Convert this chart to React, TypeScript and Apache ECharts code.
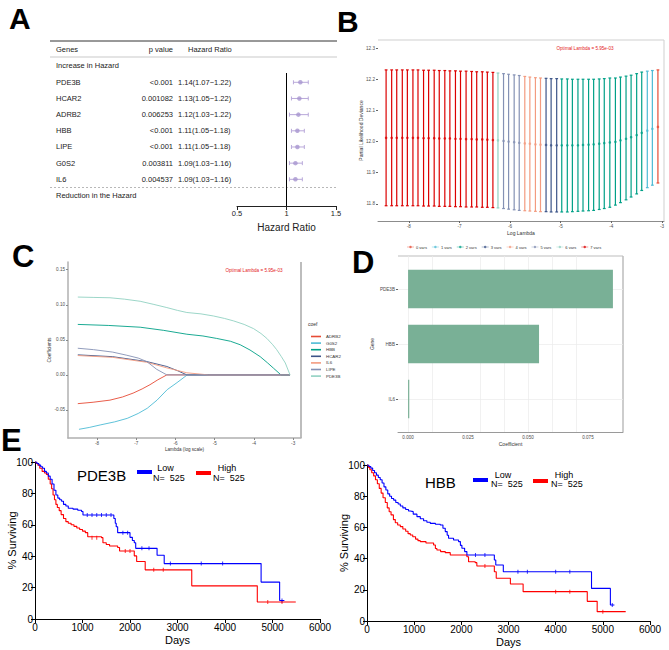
import React, { useEffect, useRef } from "react";
import * as echarts from "echarts";

const NPG = ["#E64B35", "#4DBBD5", "#00A087", "#3C5488", "#F39B7F", "#8491B4", "#91D1C2", "#DC0000"];
const FONT = "Liberation Sans, Arial, sans-serif";

// ---------- Panel A: forest ----------
const forestGenes = ["PDE3B", "HCAR2", "ADRB2", "HBB", "LIPE", "G0S2", "IL6"];
const forestP = ["<0.001", "0.001082", "0.006253", "<0.001", "<0.001", "0.003811", "0.004537"];
const forestHR = [1.14, 1.13, 1.12, 1.11, 1.11, 1.09, 1.09];
const forestLo = [1.07, 1.05, 1.03, 1.05, 1.05, 1.03, 1.03];
const forestHi = [1.22, 1.22, 1.22, 1.18, 1.18, 1.16, 1.16];
const forestRef = 1;

// ---------- Panel B: CV curve ----------
const cvLogLambda = [
  -8.45, -8.34, -8.24, -8.13, -8.03, -7.92, -7.82, -7.71, -7.61, -7.5,
  -7.4, -7.29, -7.19, -7.08, -6.98, -6.87, -6.76, -6.66, -6.55, -6.45,
  -6.34, -6.24, -6.13, -6.03, -5.92, -5.82, -5.71, -5.61, -5.5, -5.4,
  -5.29, -5.19, -5.08, -4.98, -4.87, -4.77, -4.66, -4.56, -4.45, -4.35,
  -4.24, -4.14, -4.03, -3.92, -3.82, -3.71, -3.61, -3.5, -3.4, -3.29,
  -3.19, -3.08,
];
const cvMean = [
  12.012, 12.012, 12.012, 12.012, 12.012, 12.012, 12.012, 12.011, 12.011, 12.011,
  12.01, 12.01, 12.01, 12.009, 12.009, 12.008, 12.008, 12.007, 12.007, 12.006,
  12.005, 12.004, 12.002, 12.0, 11.998, 11.996, 11.994, 11.993, 11.991, 11.99,
  11.989, 11.988, 11.988, 11.988, 11.988, 11.988, 11.988, 11.989, 11.99, 11.991,
  11.993, 11.995, 11.997, 11.999, 12.004, 12.009, 12.014, 12.021, 12.028, 12.035,
  12.041, 12.047,
];
const cvUpper = [
  12.23, 12.23, 12.23, 12.23, 12.23, 12.23, 12.23, 12.229, 12.229, 12.229,
  12.228, 12.228, 12.227, 12.227, 12.226, 12.226, 12.225, 12.224, 12.224, 12.223,
  12.222, 12.22, 12.218, 12.216, 12.214, 12.212, 12.209, 12.207, 12.205, 12.204,
  12.203, 12.202, 12.202, 12.201, 12.201, 12.2, 12.2, 12.2, 12.2, 12.2,
  12.201, 12.202, 12.204, 12.204, 12.207, 12.21, 12.213, 12.218, 12.223, 12.226,
  12.228, 12.23,
];
const cvLower = [
  11.794, 11.794, 11.794, 11.794, 11.794, 11.794, 11.794, 11.793, 11.793, 11.793,
  11.792, 11.792, 11.792, 11.791, 11.791, 11.79, 11.79, 11.79, 11.789, 11.789,
  11.788, 11.787, 11.785, 11.783, 11.781, 11.779, 11.778, 11.777, 11.776, 11.775,
  11.775, 11.774, 11.774, 11.774, 11.774, 11.775, 11.776, 11.777, 11.778, 11.779,
  11.782, 11.785, 11.789, 11.796, 11.804, 11.813, 11.822, 11.832, 11.843, 11.852,
  11.86, 11.867,
];
const cvNzero = [
  7, 7, 7, 7, 7, 7, 7, 7, 7, 7, 7, 7, 7, 7, 7, 7, 7, 7, 7, 7, 7,
  6, 5, 5, 5, 5, 4, 4, 4, 4, 3, 3, 3,
  2, 2, 2, 2, 2, 2, 2, 2, 2, 2, 2, 2, 2, 2, 2, 2,
  1, 1, 0,
];
const cvVarLabels = ["0 vars", "1 vars", "2 vars", "3 vars", "4 vars", "5 vars", "6 vars", "7 vars"];
const cvXTicks = [-8, -7, -6, -5, -4, -3];
const cvYTicks = [11.8, 11.9, 12.0, 12.1, 12.2, 12.3];

// ---------- Panel C: coefficient paths ----------
const coefGenes = ["ADRB2", "G0S2", "HBB", "HCAR2", "IL6", "LIPE", "PDE3B"];
const pathADRB2 = [[-8.49, -0.041], [-8.1, -0.039], [-7.67, -0.036], [-7.35, -0.0315], [-7.08, -0.026], [-6.85, -0.02], [-6.65, -0.014], [-6.45, -0.007], [-6.22, 0], [-3.08, 0]];
const pathG0S2 = [[-8.46, -0.0776], [-8.2, -0.075], [-7.92, -0.0714], [-7.55, -0.067], [-7.23, -0.062], [-6.95, -0.055], [-6.72, -0.0476], [-6.47, -0.036], [-6.21, -0.021], [-5.96, -0.011], [-5.7, 0], [-3.08, 0]];
const pathHBB = [[-8.49, 0.072], [-7.7, 0.0705], [-6.9, 0.068], [-6.3, 0.0635], [-5.71, 0.058], [-5.3, 0.0555], [-4.95, 0.052], [-4.6, 0.048], [-4.35, 0.043], [-4.1, 0.0355], [-3.84, 0.026], [-3.65, 0.017], [-3.5, 0.0095], [-3.31, 0], [-3.08, 0]];
const pathHCAR2 = [[-8.49, 0.0286], [-7.6, 0.026], [-6.73, 0.019], [-6.22, 0.012], [-5.95, 0.006], [-5.71, 0], [-3.08, 0]];
const pathIL6 = [[-8.49, 0.0276], [-7.6, 0.025], [-6.73, 0.018], [-6.22, 0.01], [-5.71, 0.003], [-5.16, 0], [-3.08, 0]];
const pathLIPE = [[-8.49, 0.038], [-8.09, 0.036], [-7.6, 0.0325], [-7.24, 0.028], [-6.95, 0.024], [-6.73, 0.019], [-6.48, 0.008], [-6.22, 0], [-3.08, 0]];
const pathPDE3B = [[-8.49, 0.111], [-8.1, 0.1105], [-7.67, 0.11], [-7.3, 0.108], [-6.9, 0.105], [-6.55, 0.1005], [-6.22, 0.096], [-5.95, 0.092], [-5.71, 0.089], [-5.35, 0.087], [-5.03, 0.084], [-4.75, 0.0805], [-4.52, 0.077], [-4.25, 0.072], [-4.01, 0.066], [-3.82, 0.059], [-3.67, 0.052], [-3.52, 0.043], [-3.42, 0.036], [-3.3, 0.026], [-3.2, 0.017], [-3.08, 0]];
const coefPaths = [pathADRB2, pathG0S2, pathHBB, pathHCAR2, pathIL6, pathLIPE, pathPDE3B];
const coefYTicks = [-0.05, 0, 0.05, 0.1, 0.15];

// ---------- Panel D: bar ----------
const barGenes = ["IL6", "HBB", "PDE3B"];
const barCoef = [0.0005, 0.0546, 0.0854];
const barXTicks = [0, 0.025, 0.05, 0.075];
const barGridX = [0, 0.0125, 0.025, 0.0375, 0.05, 0.0625, 0.075, 0.0875];

// ---------- Panel E: KM ----------
const kmGroups = ["Low", "High"];
const kmN = [525, 525];
const kmPDE3BLow = [[0, 100], [40, 99], [80, 98], [120, 97], [160, 96], [200, 94], [240, 93], [280, 91], [320, 89], [360, 86], [400, 82], [440, 79], [480, 77], [520, 76], [560, 75], [600, 73], [650, 72], [700, 70.5], [800, 70], [900, 69.3], [980, 68.5], [1010, 66.2], [1660, 64], [1690, 61], [1710, 58.8], [1740, 55], [2000, 52], [2050, 50], [2090, 48.6], [2120, 45], [2570, 40.6], [2720, 35.3], [4760, 23.5], [5150, 11.8], [5250, 11.8]];
const kmPDE3BHigh = [[0, 100], [30, 99], [60, 98], [100, 96], [150, 94], [200, 93], [240, 92], [280, 89], [320, 86], [350, 83], [380, 79], [410, 76], [440, 73], [470, 71], [510, 69], [550, 66.5], [600, 64], [650, 62], [700, 61], [760, 60], [820, 59], [880, 58], [940, 57], [1000, 56], [1060, 55], [1110, 52.4], [1400, 51.8], [1430, 48.6], [1500, 47.5], [1570, 46.5], [1740, 45.5], [1780, 43.3], [2090, 40.2], [2140, 36.6], [2320, 31.3], [3300, 21.1], [4680, 10.8], [5490, 10.8]];
const kmHBBLow = [[0, 100], [40, 99], [80, 98], [120, 96.5], [160, 95], [200, 93.5], [240, 92], [280, 90.5], [320, 88.5], [360, 86], [400, 84], [440, 81.5], [480, 80], [520, 78.5], [565, 77.5], [610, 76], [660, 75], [706, 73.7], [760, 72.5], [820, 71.5], [880, 70.5], [918, 70.1], [980, 68.5], [1059, 66.9], [1130, 65.5], [1200, 64.3], [1270, 63.3], [1341, 62.6], [1450, 62], [1553, 61.5], [1610, 59.5], [1659, 57.3], [1700, 55], [1729, 53], [1835, 51.9], [1941, 50.9], [1980, 48.5], [2012, 46.6], [2070, 44.5], [2118, 42.3], [2700, 39.1], [2730, 35.9], [2890, 31.6], [4760, 20.9], [5160, 10.3], [5245, 10.3]];
const kmHBBHigh = [[0, 100], [30, 98.5], [60, 97], [100, 95], [141, 93], [180, 90.5], [220, 88], [260, 85], [300, 82], [340, 79], [388, 76], [430, 72.5], [470, 70], [510, 68], [560, 65], [600, 63], [650, 61.5], [706, 60.5], [760, 59], [820, 57.5], [870, 56], [918, 55.1], [970, 54], [1030, 52.5], [1080, 51.5], [1129, 50.9], [1250, 50], [1412, 48.7], [1450, 46.5], [1482, 45.5], [1560, 44.5], [1659, 43.8], [1765, 42.3], [2118, 41.2], [2153, 38], [2294, 37.4], [2329, 35.3], [2700, 31.6], [2740, 27.4], [3040, 23.7], [3310, 18.8], [4670, 12.6], [4880, 6], [5485, 6]];
const censPDE3BLow = [[1100, 66.2], [1200, 66.2], [1300, 66.2], [1400, 66.2], [1500, 66.2], [1600, 66.2], [1850, 55], [1950, 55], [2250, 45], [2400, 45], [2850, 35.3], [3500, 35.3], [3950, 35.3], [5200, 11.8]];
const censPDE3BHigh = [[1200, 51.8], [1300, 51.8], [1900, 43.3], [2000, 43.3], [2500, 31.3], [2700, 31.3], [4900, 10.8], [5200, 10.8]];
const censHBBLow = [[2300, 42.3], [2500, 42.3], [3200, 31.6], [3400, 31.6], [4000, 31.6], [4300, 31.6], [5200, 10.3]];
const censHBBHigh = [[2500, 35.3], [4000, 18.8], [4300, 18.8], [5000, 6]];

const txt = (x: number, y: number, text: string, size: number, opts: any = {}) => ({
  type: "text",
  x,
  y,
  silent: true,
  style: {
    text,
    fontSize: size,
    fontFamily: opts.family || FONT,
    fontWeight: opts.weight || "normal",
    fill: opts.fill || "#222",
    align: opts.align || "left",
    verticalAlign: "middle",
    textAlign: opts.align || "left",
    textVerticalAlign: "middle",
  },
});
const ln = (x1: number, y1: number, x2: number, y2: number, stroke: string, w = 1, dash?: number[]) => ({
  type: "line",
  silent: true,
  shape: { x1, y1, x2, y2 },
  style: { stroke, lineWidth: w, lineDash: dash },
});

function buildOption() {
  const graphics: any[] = [];
  graphics.push(txt(9, 18, "A", 30, { weight: "bold", fill: "#000" }));
  graphics.push(txt(337, 21, "B", 30, { weight: "bold", fill: "#000" }));
  graphics.push(txt(12, 256, "C", 31, { weight: "bold", fill: "#000" }));
  graphics.push(txt(352, 262, "D", 31, { weight: "bold", fill: "#000" }));
  graphics.push(txt(1, 440, "E", 31, { weight: "bold", fill: "#000" }));

  // Panel A table
  graphics.push(ln(50, 41, 337, 41, "#333", 1));
  graphics.push(ln(50, 57, 337, 57, "#bbb", 0.8));
  graphics.push(ln(50, 187.5, 337, 187.5, "#999", 0.7, [2, 2]));
  graphics.push(txt(56, 49.5, "Genes", 7.5));
  graphics.push(txt(173, 49.5, "p value", 7.5, { align: "right" }));
  graphics.push(txt(188, 49.5, "Hazard Ratio", 7.5));
  graphics.push(txt(56, 65.7, "Increase in Hazard", 7.5));
  graphics.push(txt(56, 195.7, "Reduction in the Hazard", 7.5));
  forestGenes.forEach((g, i) => {
    const y = 82.3 + 16.17 * i;
    graphics.push(txt(56, y, g, 7.5));
    graphics.push(txt(173, y, forestP[i], 7.5, { align: "right" }));
    graphics.push(
      txt(178, y, `${forestHR[i].toFixed(2)}(${forestLo[i].toFixed(2)}\u2212${forestHi[i].toFixed(2)})`, 7.5)
    );
  });

  // Panel B extras
  graphics.push(ln(378, 40, 664, 40, "#cfcfcf", 1));
  graphics.push(ln(664, 40, 664, 221, "#cfcfcf", 1));
  graphics.push(txt(585, 48, "Optimal Lambda = 5.95e-03", 4.6, { align: "center", fill: "#E41A1C" }));

  // Panel C extras
  graphics.push(ln(301, 262, 301, 438, "#bdbdbd", 2));
  graphics.push(txt(254, 270, "Optimal Lambda = 5.95e-03", 4.6, { align: "center", fill: "#E41A1C" }));
  graphics.push(txt(308, 324, "coef", 5, { fill: "#333" }));

  // Panel D extras
  graphics.push(ln(398, 256, 623, 256, "#bdbdbd", 1));
  graphics.push(ln(623, 256, 623, 432, "#bdbdbd", 1.5));

  // Panel E legends
  const kmLeg = [
    { title: "PDE3B", tx: 77, ty: 475, items: [[137, 472, 165.5, 468, 153, 477.6], [196, 473, 227, 468, 213, 477.6]] },
    { title: "HBB", tx: 425, ty: 482, items: [[473, 480, 503, 475, 491, 484], [533, 481, 564, 475, 551, 484]] },
  ];
  const kmCols = ["#0000ff", "#ff0000"];
  kmLeg.forEach((L) => {
    graphics.push(txt(L.tx, L.ty, L.title, 15, { fill: "#000" }));
    L.items.forEach((it, k) => {
      graphics.push({ type: "rect", silent: true, shape: { x: it[0], y: it[1] - 2, width: 15, height: 4 }, style: { fill: kmCols[k] } });
      graphics.push(txt(it[2], it[3], kmGroups[k], 9, { align: "center", fill: "#000" }));
      graphics.push(txt(it[4], it[5], `N=  ${kmN[k]}`, 9, { fill: "#000" }));
    });
  });

  const tinyAxisLabel = { fontSize: 4.6, color: "#4d4d4d", fontFamily: FONT, margin: 3 };
  const legendIcon =
    "path://M0,2 L10,2 L10,3 L0,3 Z M6.8,2.5 A1.8,1.8 0 1 1 3.2,2.5 A1.8,1.8 0 1 1 6.8,2.5 Z";

  const series: any[] = [];
  // A: reference line at HR = 1 (spans the plotting area)
  series.push({
    type: "custom",
    xAxisIndex: 0,
    yAxisIndex: 0,
    silent: true,
    data: [[forestRef, 0]],
    renderItem: (params: any, api: any) => {
      const p = api.coord([api.value(0), 0]);
      const cs = params.coordSys;
      return {
        type: "line",
        shape: { x1: p[0], y1: cs.y, x2: p[0], y2: cs.y + cs.height },
        style: { stroke: "#000", lineWidth: 1 },
      };
    },
    z: 1,
  });
  // A: whiskers
  series.push({
    type: "custom",
    xAxisIndex: 0,
    yAxisIndex: 0,
    silent: true,
    data: forestGenes.map((_, i) => [forestHR[i], forestLo[i], forestHi[i], i]),
    encode: { x: [0, 1, 2], y: 3 },
    renderItem: (params: any, api: any) => {
      const row = api.value(3);
      const a = api.coord([api.value(1), row]);
      const b = api.coord([api.value(2), row]);
      const c = "#b9a9da";
      return {
        type: "group",
        children: [
          { type: "line", shape: { x1: a[0], y1: a[1], x2: b[0], y2: b[1] }, style: { stroke: c, lineWidth: 1 } },
          { type: "line", shape: { x1: a[0], y1: a[1] - 2, x2: a[0], y2: a[1] + 2 }, style: { stroke: c, lineWidth: 1 } },
          { type: "line", shape: { x1: b[0], y1: b[1] - 2, x2: b[0], y2: b[1] + 2 }, style: { stroke: c, lineWidth: 1 } },
        ],
      };
    },
    z: 2,
  });
  series.push({
    type: "scatter",
    xAxisIndex: 0,
    yAxisIndex: 0,
    silent: true,
    symbolSize: 4.5,
    itemStyle: { color: "#a896d0" },
    data: forestGenes.map((_, i) => [forestHR[i], i]),
    z: 3,
  });

  // B: error bars
  series.push({
    type: "custom",
    xAxisIndex: 1,
    yAxisIndex: 1,
    silent: true,
    data: cvLogLambda.map((x, i) => [x, cvLower[i], cvUpper[i], cvNzero[i]]),
    encode: { x: 0, y: [1, 2] },
    renderItem: (params: any, api: any) => {
      const x = api.value(0);
      const lo = api.coord([x, api.value(1)]);
      const hi = api.coord([x, api.value(2)]);
      const c = NPG[api.value(3)];
      const w = 1.4;
      const st = { stroke: c, lineWidth: 1.2 };
      return {
        type: "group",
        children: [
          { type: "line", shape: { x1: lo[0], y1: lo[1], x2: hi[0], y2: hi[1] }, style: st },
          { type: "line", shape: { x1: lo[0] - w, y1: lo[1], x2: lo[0] + w, y2: lo[1] }, style: st },
          { type: "line", shape: { x1: hi[0] - w, y1: hi[1], x2: hi[0] + w, y2: hi[1] }, style: st },
        ],
      };
    },
  });
  cvVarLabels.forEach((name, nz) => {
    series.push({
      type: "scatter",
      name,
      xAxisIndex: 1,
      yAxisIndex: 1,
      silent: true,
      symbol: "circle",
      symbolSize: 2.6,
      itemStyle: { color: NPG[nz] },
      data: cvLogLambda.map((x, i) => (cvNzero[i] === nz ? [x, cvMean[i]] : null)).filter((d) => d),
    });
  });

  // C: coefficient paths
  coefGenes.forEach((g, k) => {
    series.push({
      type: "line",
      name: g,
      xAxisIndex: 2,
      yAxisIndex: 2,
      silent: true,
      showSymbol: false,
      symbol: "none",
      smooth: false,
      data: coefPaths[k],
      itemStyle: { color: NPG[k] },
      lineStyle: { color: NPG[k], width: 0.9 },
    });
  });

  // D: bars
  series.push({
    type: "custom",
    xAxisIndex: 3,
    yAxisIndex: 3,
    silent: true,
    data: barGenes.map((g, i) => [barCoef[i], i + 1]),
    encode: { x: 0, y: 1 },
    renderItem: (params: any, api: any) => {
      const pos = api.value(1);
      const a = api.coord([0, pos]);
      const b = api.coord([api.value(0), pos]);
      const h = api.size([0, 0.7])[1];
      return {
        type: "rect",
        shape: { x: a[0], y: a[1] - h / 2, width: Math.max(b[0] - a[0], 0.8), height: h },
        style: { fill: "#79B096" },
      };
    },
    markLine: {
      silent: true,
      symbol: "none",
      label: { show: false },
      z: 0,
      lineStyle: { color: "#ebebeb", width: 0.7, type: "solid" },
      data: [
        ...barGridX.map((v) => ({ xAxis: v })),
        ...barGenes.map((_, i) => ({ yAxis: i + 1 })),
      ],
    },
    z: 3,
  });

  // E: KM curves
  const kmSets = [
    { grid: 4, low: kmPDE3BLow, high: kmPDE3BHigh, cl: censPDE3BLow, ch: censPDE3BHigh },
    { grid: 5, low: kmHBBLow, high: kmHBBHigh, cl: censHBBLow, ch: censHBBHigh },
  ];
  kmSets.forEach((s) => {
    [s.low, s.high].forEach((d, k) => {
      series.push({
        type: "line",
        xAxisIndex: s.grid,
        yAxisIndex: s.grid,
        silent: true,
        step: "end",
        showSymbol: false,
        symbol: "none",
        data: d,
        lineStyle: { color: kmCols[k], width: 1.1 },
        z: k === 0 ? 3 : 2,
      });
    });
    [s.cl, s.ch].forEach((d, k) => {
      series.push({
        type: "scatter",
        xAxisIndex: s.grid,
        yAxisIndex: s.grid,
        silent: true,
        symbol: "rect",
        symbolSize: [1, 4],
        itemStyle: { color: kmCols[k] },
        data: d,
      });
    });
  });

  const kmX = (gi: number) => ({
    type: "value",
    gridIndex: gi,
    min: 0,
    max: 6000,
    interval: 1000,
    name: "Days",
    nameLocation: "middle",
    nameGap: 15,
    nameMoveOverlap: false,
    nameTextStyle: { fontSize: 11, color: "#000", fontFamily: FONT },
    axisLine: { show: true, onZero: false, lineStyle: { color: "#000", width: 1 } },
    axisTick: { show: true, length: 4, lineStyle: { color: "#000" } },
    axisLabel: { fontSize: 10, color: "#000", fontFamily: FONT, margin: 3, formatter: (v: number) => `${v}` },
    splitLine: { show: false },
  });
  const kmY = (gi: number) => ({
    type: "value",
    gridIndex: gi,
    min: 0,
    max: 100,
    interval: 20,
    name: "% Surviving",
    nameLocation: "middle",
    nameGap: 18,
    nameMoveOverlap: false,
    nameTextStyle: { fontSize: 11, color: "#000", fontFamily: FONT },
    axisLine: { show: true, onZero: false, lineStyle: { color: "#000", width: 1 } },
    axisTick: { show: true, length: 4, lineStyle: { color: "#000" } },
    axisLabel: { fontSize: 10, color: "#000", fontFamily: FONT, margin: 2 },
    splitLine: { show: false },
  });

  return {
    animation: false,
    backgroundColor: "#fff",
    textStyle: { fontFamily: FONT },
    grid: [
      { left: 237, top: 73, width: 99, height: 133 },
      { left: 378, top: 40, width: 286, height: 181 },
      { left: 68, top: 262, width: 233, height: 176 },
      { left: 398, top: 256, width: 225, height: 176 },
      { left: 35, top: 462, width: 285, height: 157 },
      { left: 367, top: 465, width: 283, height: 156 },
    ],
    legend: [
      {
        data: cvVarLabels,
        left: 402,
        top: 240,
        orient: "horizontal",
        itemWidth: 7,
        itemHeight: 4,
        itemGap: 5,
        icon: legendIcon,
        selectedMode: false,
        textStyle: { fontSize: 4, color: "#333", fontFamily: FONT, padding: [0, 0, 0, -3] },
      },
      {
        data: coefGenes,
        left: 306,
        top: 329,
        orient: "vertical",
        itemWidth: 10,
        itemHeight: 1.6,
        itemGap: 1.6,
        icon: "rect",
        selectedMode: false,
        textStyle: { fontSize: 4.4, color: "#333", fontFamily: FONT, lineHeight: 5 },
      },
    ],
    xAxis: [
      {
        type: "value",
        gridIndex: 0,
        min: 0.5,
        max: 1.5,
        interval: 0.5,
        name: "Hazard Ratio",
        nameLocation: "middle",
        nameGap: 16,
        nameMoveOverlap: false,
        nameTextStyle: { fontSize: 10, color: "#222", fontFamily: FONT },
        axisLine: { show: true, onZero: false, lineStyle: { color: "#222", width: 1 } },
        axisTick: { show: true, length: 4, lineStyle: { color: "#222" } },
        axisLabel: { fontSize: 7.5, color: "#222", fontFamily: FONT, margin: 3, formatter: (v: number) => `${v}` },
        splitLine: { show: false },
      },
      {
        type: "value",
        gridIndex: 1,
        min: -8.61,
        max: -2.96,
        name: "Log Lambda",
        nameLocation: "middle",
        nameGap: 9,
        nameMoveOverlap: false,
        nameTextStyle: { fontSize: 5, color: "#333", fontFamily: FONT },
        axisLine: { show: true, onZero: false, lineStyle: { color: "#8c8c8c", width: 1 } },
        axisTick: { show: true, length: 2, customValues: cvXTicks, lineStyle: { color: "#666" } },
        axisLabel: { ...tinyAxisLabel, customValues: cvXTicks },
        splitLine: { show: false },
      },
      {
        type: "value",
        gridIndex: 2,
        min: -8.74,
        max: -2.8,
        name: "Lambda (log scale)",
        nameLocation: "middle",
        nameGap: 9,
        nameMoveOverlap: false,
        nameTextStyle: { fontSize: 4.6, color: "#333", fontFamily: FONT },
        axisLine: { show: true, onZero: false, lineStyle: { color: "#b0b0b0", width: 1.5 } },
        axisTick: { show: true, length: 2, customValues: cvXTicks, lineStyle: { color: "#888" } },
        axisLabel: { ...tinyAxisLabel, customValues: cvXTicks },
        splitLine: { show: false },
      },
      {
        type: "value",
        gridIndex: 3,
        min: -0.0042,
        max: 0.0896,
        name: "Coefficient",
        nameLocation: "middle",
        nameGap: 9,
        nameMoveOverlap: false,
        nameTextStyle: { fontSize: 5, color: "#333", fontFamily: FONT },
        axisLine: { show: true, onZero: false, lineStyle: { color: "#9a9a9a", width: 1 } },
        axisTick: { show: false },
        axisLabel: { ...tinyAxisLabel, customValues: barXTicks, formatter: (v: number) => v.toFixed(3) },
        splitLine: { show: false },
      },
      kmX(4),
      kmX(5),
    ],
    yAxis: [
      { type: "value", gridIndex: 0, min: -0.575, max: 7.65, inverse: true, show: false, axisLine: { onZero: false } },
      {
        type: "value",
        gridIndex: 1,
        min: 11.745,
        max: 12.326,
        name: "Partial Likelihood Deviance",
        nameLocation: "middle",
        nameGap: 15,
        nameMoveOverlap: false,
        nameTextStyle: { fontSize: 5, color: "#333", fontFamily: FONT },
        axisLine: { show: false, onZero: false },
        axisTick: { show: true, length: 2, customValues: cvYTicks, lineStyle: { color: "#666" } },
        axisLabel: { ...tinyAxisLabel, customValues: cvYTicks, formatter: (v: number) => v.toFixed(1) },
        splitLine: { show: false },
      },
      {
        type: "value",
        gridIndex: 2,
        min: -0.09,
        max: 0.161,
        name: "Coefficients",
        nameLocation: "middle",
        nameGap: 16,
        nameMoveOverlap: false,
        nameTextStyle: { fontSize: 4.8, color: "#333", fontFamily: FONT },
        axisLine: { show: true, onZero: false, lineStyle: { color: "#b0b0b0", width: 1.5 } },
        axisTick: { show: true, length: 2, customValues: coefYTicks, lineStyle: { color: "#888" } },
        axisLabel: { ...tinyAxisLabel, customValues: coefYTicks, formatter: (v: number) => v.toFixed(2) },
        splitLine: { show: false },
      },
      {
        type: "value",
        gridIndex: 3,
        min: 0.4,
        max: 3.6,
        name: "Gene",
        nameLocation: "middle",
        nameGap: 24,
        nameMoveOverlap: false,
        nameTextStyle: { fontSize: 5, color: "#333", fontFamily: FONT },
        axisLine: { show: false, onZero: false },
        axisTick: { show: true, length: 2, customValues: [1, 2, 3], lineStyle: { color: "#666" } },
        axisLabel: { ...tinyAxisLabel, customValues: [1, 2, 3], formatter: (v: number) => barGenes[Math.round(v) - 1] || "" },
        splitLine: { show: false },
      },
      kmY(4),
      kmY(5),
    ],
    graphic: { elements: graphics },
    series,
  };
}

export default function App() {
  const ref = useRef<HTMLDivElement>(null);
  useEffect(() => {
    if (!ref.current) return;
    const chart = echarts.init(ref.current, undefined, { renderer: "svg" });
    chart.setOption(buildOption() as any);
    return () => chart.dispose();
  }, []);
  return <div ref={ref} style={{ width: 669, height: 650, position: "absolute", left: 0, top: 0 }} />;
}
